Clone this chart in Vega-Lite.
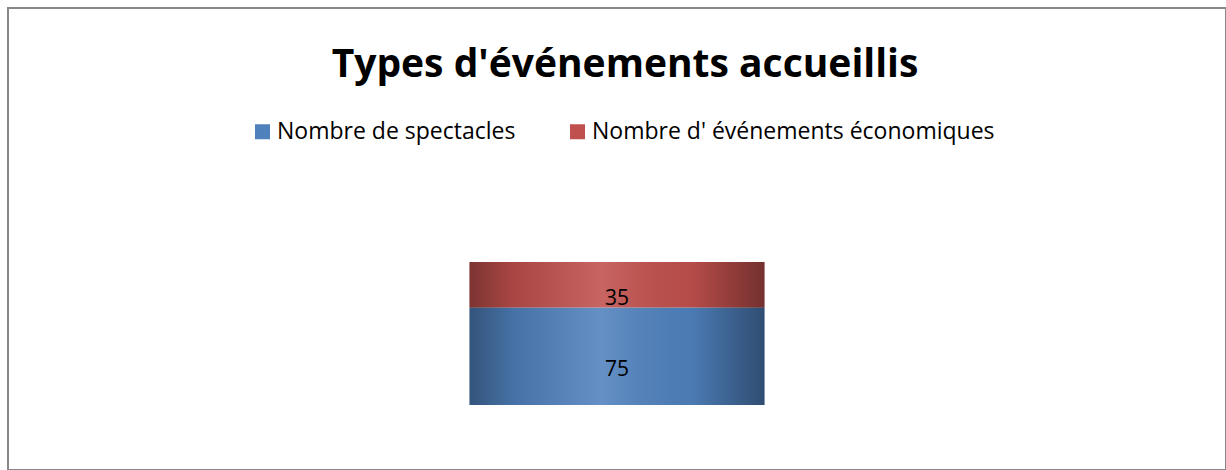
{
  "$schema": "https://vega.github.io/schema/vega-lite/v6.json",
  "width": 1218,
  "height": 462,
  "autosize": "none",
  "padding": {"left": 8, "top": 8, "right": 0, "bottom": 0},
  "background": "white",
  "title": {
    "text": "Types d'événements accueillis",
    "font": "Open Sans",
    "fontSize": 39,
    "fontWeight": "bold",
    "color": "#000000",
    "anchor": "middle",
    "offset": -77,
    "dx": 8
  },
  "data": {
    "values": [
      {"cat": "A", "serie": "Nombre de spectacles", "ordre": 1, "valeur": 75},
      {"cat": "A", "serie": "Nombre d' événements économiques", "ordre": 2, "valeur": 35}
    ]
  },
  "encoding": {
    "x": {"field": "cat", "type": "nominal", "axis": null}
  },
  "layer": [
    {
      "mark": {"type": "bar", "size": 295},
      "encoding": {
        "y": {"field": "valeur", "type": "quantitative", "stack": "zero", "scale": {"domain": [-50, 305.4], "nice": false, "zero": false}, "axis": null},
        "order": {"field": "ordre"},
        "color": {
          "field": "serie",
          "type": "nominal",
          "sort": ["Nombre de spectacles", "Nombre d' événements économiques"],
          "scale": {"domain": ["Nombre de spectacles", "Nombre d' événements économiques"], "range": ["#4F81BD", "#C0504D"]},
          "legend": {
            "title": null,
            "orient": "none",
            "legendX": 243,
            "legendY": 112,
            "direction": "horizontal",
            "symbolType": "square",
            "symbolSize": 225,
            "symbolStrokeWidth": 0,
            "labelFont": "Open Sans",
            "labelFontSize": 23,
            "labelColor": "#000000",
            "labelLimit": 0,
            "columnPadding": 50,
            "labelOffset": 3
          }
        }
      }
    },
    {
      "mark": {
        "type": "bar",
        "size": 295,
        "fill": {
          "gradient": "linear",
          "x1": 0, "y1": 0, "x2": 1, "y2": 0,
          "stops": [
            {"offset": 0, "color": "rgba(0,0,0,0.35)"},
            {"offset": 0.15, "color": "rgba(0,0,0,0.12)"},
            {"offset": 0.45, "color": "rgba(255,255,255,0.12)"},
            {"offset": 0.75, "color": "rgba(0,0,0,0.05)"},
            {"offset": 1, "color": "rgba(0,0,0,0.4)"}
          ]
        }
      },
      "encoding": {
        "y": {"aggregate": "sum", "field": "valeur", "type": "quantitative"}
      }
    },
    {
      "mark": {"type": "text", "font": "Open Sans", "fontSize": 21, "color": "#000000", "dy": 14},
      "encoding": {
        "y": {"field": "valeur", "type": "quantitative", "stack": "zero", "bandPosition": 0.5},
        "order": {"field": "ordre"},
        "text": {"field": "valeur", "type": "quantitative"}
      }
    }
  ],
  "config": {
    "view": {"stroke": "#888888", "strokeWidth": 2}
  }
}
